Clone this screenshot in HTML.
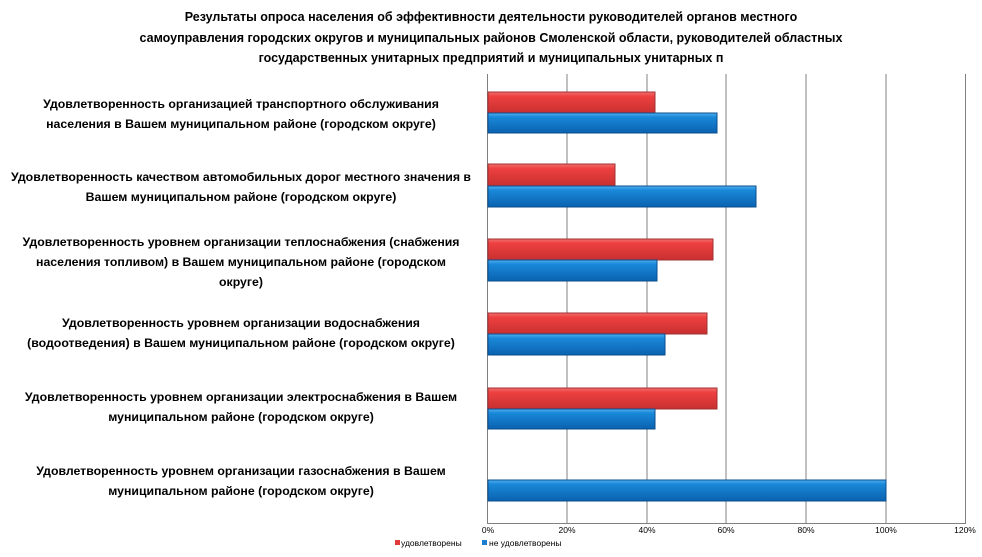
<!DOCTYPE html>
<html><head><meta charset="utf-8"><style>
body{margin:0;width:982px;height:557px;background:#fff;position:relative;font-family:"Liberation Sans",Arial,sans-serif;overflow:hidden}
.t{position:absolute;left:0;width:982px;top:7px;text-align:center;font-weight:bold;font-size:12.5px;line-height:20.5px;color:#000;white-space:nowrap}
.l{position:absolute;left:0;width:482px;text-align:center;font-weight:bold;font-size:12.3px;line-height:20px;color:#000;white-space:nowrap}
</style></head><body>
<div class="t">Результаты опроса населения об эффективности деятельности руководителей органов местного<br>самоуправления городских округов и муниципальных районов Смоленской области, руководителей областных<br>государственных унитарных предприятий и муниципальных унитарных п</div>
<div class="l" style="top:94px">Удовлетворенность организацией транспортного обслуживания<br>населения в Вашем муниципальном районе (городском округе)</div>
<div class="l" style="top:167px">Удовлетворенность качеством автомобильных дорог местного значения в<br>Вашем муниципальном районе (городском округе)</div>
<div class="l" style="top:232px">Удовлетворенность уровнем организации теплоснабжения (снабжения<br>населения топливом) в Вашем муниципальном районе (городском<br>округе)</div>
<div class="l" style="top:313px">Удовлетворенность уровнем организации водоснабжения<br>(водоотведения) в Вашем муниципальном районе (городском округе)</div>
<div class="l" style="top:387px">Удовлетворенность уровнем организации электроснабжения в Вашем<br>муниципальном районе (городском округе)</div>
<div class="l" style="top:461px">Удовлетворенность уровнем организации газоснабжения в Вашем<br>муниципальном районе (городском округе)</div>
<svg width="982" height="557" style="position:absolute;left:0;top:0" font-family="Liberation Sans, Arial, sans-serif">
<defs>
<linearGradient id="r" x1="0" y1="0" x2="0" y2="1"><stop offset="0" stop-color="#f07070"/><stop offset="0.2" stop-color="#ee4040"/><stop offset="1" stop-color="#c83030"/></linearGradient>
<linearGradient id="b" x1="0" y1="0" x2="0" y2="1"><stop offset="0" stop-color="#50b0f0"/><stop offset="0.2" stop-color="#1a88d8"/><stop offset="1" stop-color="#0a62b0"/></linearGradient>
</defs>
<g stroke="#808080" stroke-width="1">
<line x1="567" y1="74" x2="567" y2="523"/><line x1="647" y1="74" x2="647" y2="523"/><line x1="726" y1="74" x2="726" y2="523"/><line x1="806" y1="74" x2="806" y2="523"/><line x1="886" y1="74" x2="886" y2="523"/><line x1="965.5" y1="74" x2="965.5" y2="523"/>
<line x1="487.5" y1="74" x2="487.5" y2="523.5"/><line x1="487" y1="523.5" x2="966" y2="523.5"/>
</g>
<g stroke-width="1">
<rect x="488" y="92" width="167" height="21" fill="url(#r)" stroke="#a03030"/>
<rect x="488" y="113" width="229" height="20" fill="url(#b)" stroke="#0a4f8f"/>
<rect x="488" y="164" width="127" height="22" fill="url(#r)" stroke="#a03030"/>
<rect x="488" y="186" width="268" height="21" fill="url(#b)" stroke="#0a4f8f"/>
<rect x="488" y="239" width="225" height="21" fill="url(#r)" stroke="#a03030"/>
<rect x="488" y="260" width="169" height="21" fill="url(#b)" stroke="#0a4f8f"/>
<rect x="488" y="313" width="219" height="21" fill="url(#r)" stroke="#a03030"/>
<rect x="488" y="334" width="177" height="21" fill="url(#b)" stroke="#0a4f8f"/>
<rect x="488" y="388" width="229" height="21" fill="url(#r)" stroke="#a03030"/>
<rect x="488" y="409" width="167" height="20" fill="url(#b)" stroke="#0a4f8f"/>
<rect x="488" y="480" width="398" height="21" fill="url(#b)" stroke="#0a4f8f"/>
</g>
<g font-size="8.5" fill="#000" text-anchor="middle">
<text x="488" y="533">0%</text><text x="567" y="533">20%</text><text x="647" y="533">40%</text><text x="726" y="533">60%</text><text x="806" y="533">80%</text><text x="886" y="533">100%</text><text x="965" y="533">120%</text>
</g>
<rect x="395" y="540" width="5" height="5" fill="#e03a3a"/>
<text x="401" y="546" font-size="8.5">удовлетворены</text>
<rect x="482" y="540" width="5" height="5" fill="#1a7fd0"/>
<text x="489" y="546" font-size="8.5">не удовлетворены</text>
</svg>
</body></html>
